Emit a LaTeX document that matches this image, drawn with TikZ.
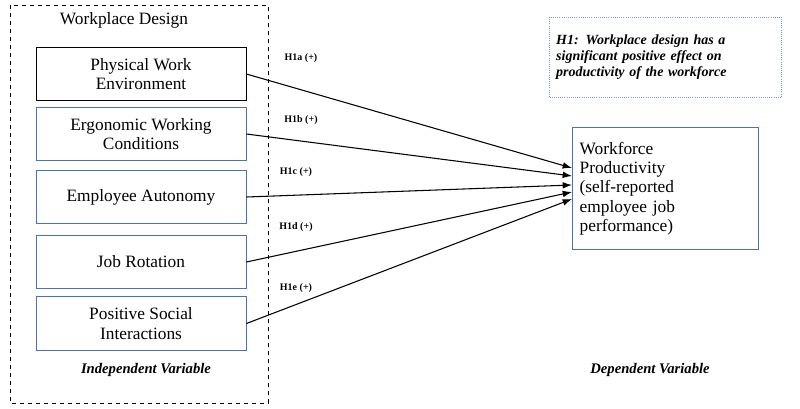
\documentclass[tikz,border=0pt]{standalone}
\usepackage{fontspec}
\setmainfont{Liberation Serif}
\usetikzlibrary{arrows.meta}
\definecolor{boxblue}{RGB}{68,114,196}
\tikzset{
  factor/.style={draw=boxblue,semithick,minimum width=157.5pt,minimum height=40pt,align=center,font=\fontsize{13}{14.5}\selectfont},
  hyp/.style={font=\bfseries\fontsize{7.5}{8}\selectfont},
  link/.style={-{Latex[length=7pt,width=5pt]},thick}
}
\begin{document}
\begin{tikzpicture}[x=0.75pt,y=-0.75pt]
  \useasboundingbox (0,0) rectangle (800,408);
  \draw[dashed] (10,5) rectangle (268,403);
  \node[font=\fontsize{13}{14}\selectfont] (wd) at (124,20) {Workplace Design};

  \node[factor,draw=black] (pwe) at (141,74) {Physical Work\\Environment};
  \node[factor] (ewc) at (141,134) {Ergonomic Working\\Conditions};
  \node[factor] (ea) at (141,197) {Employee Autonomy};
  \node[factor] (jr) at (141,262) {Job Rotation};
  \node[factor] (psi) at (141,323.5) {Positive Social\\Interactions};

  \node[draw=boxblue,semithick,minimum width=139.5pt,minimum height=92pt,text width=128pt,align=left,
        font=\fontsize{13}{14.5}\selectfont] (wp) at (665,188.5)
        {Workforce\\Productivity\\(self-reported\\employee job\\performance)};

  \node[draw=boxblue!70,densely dotted,semithick,minimum width=174pt,minimum height=60pt,text width=164pt,align=left,
        font=\bfseries\itshape\fontsize{10.5}{12}\selectfont] (h1) at (665.5,57)
        {H1: Workplace design has a\\significant positive effect on\\productivity of the workforce};

  \coordinate (t1) at (572,168);
  \coordinate (t2) at (572,176);
  \coordinate (t3) at (572,185);
  \coordinate (t4) at (572,192);
  \coordinate (t5) at (572,199);
  \draw[link] (pwe.east) -- (t1);
  \draw[link] (ewc.east) -- (t2);
  \draw[link] (ea.east) -- (t3);
  \draw[link] (jr.east) -- (t4);
  \draw[link] (psi.east) -- (t5);

  \node[hyp] (h1a) at (301,58) {H1a (+)};
  \node[hyp] (h1b) at (301,120) {H1b (+)};
  \node[hyp] (h1c) at (296,172) {H1c (+)};
  \node[hyp] (h1d) at (296,227) {H1d (+)};
  \node[hyp] (h1e) at (296,288) {H1e (+)};

  \node[font=\bfseries\itshape\fontsize{11}{12}\selectfont] (iv) at (146,370) {Independent Variable};
  \node[font=\bfseries\itshape\fontsize{11}{12}\selectfont] (dv) at (650,370) {Dependent Variable};
\end{tikzpicture}
\end{document}
